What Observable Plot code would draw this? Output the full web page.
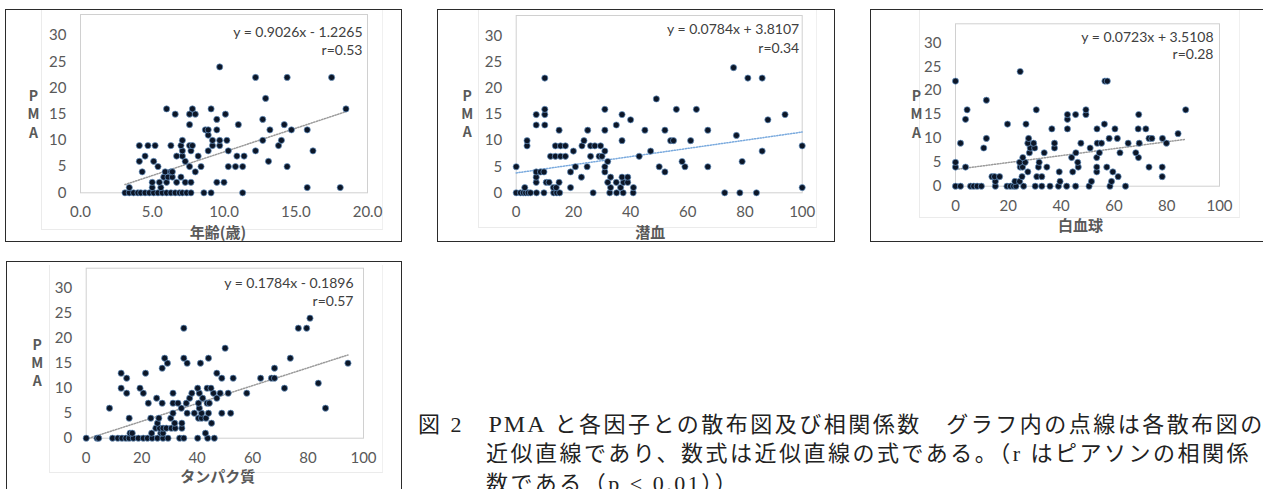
<!DOCTYPE html>
<html>
<head>
<meta charset="utf-8">
<script src="https://cdn.jsdelivr.net/npm/d3@7"></script>
<script src="https://cdn.jsdelivr.net/npm/@observablehq/plot@0.6"></script>
<style>
  html, body { margin: 0; padding: 0; background: #fff; }
  #root { position: relative; width: 1263px; height: 489px; overflow: hidden; background: #fff; }
  .box { position: absolute; border: 1.5px solid #2b2b2b; box-sizing: border-box; z-index: 3; pointer-events: none; }
  .area { position: absolute; border-left: 1px solid #ebebeb; border-bottom: 1px solid #ebebeb; border-right: 1px solid #f0f0f0; box-sizing: border-box; z-index: 0; }
  .panel { position: absolute; z-index: 1; }
  .panel svg { overflow: visible; }
  .cap { position: absolute; white-space: nowrap; font-family: "Liberation Serif", "Noto Sans CJK JP", serif; font-size: 22px; line-height: 30px; letter-spacing: 2.5px; color: #222; z-index: 2; }
  .cap .lat { letter-spacing: 2px; font-size: 24px; }
</style>
</head>
<body>
<div id="root"></div>
<script>
// ---------- data ----------
const yTicks = [0, 5, 10, 15, 20, 25, 30];
const ageTicks = [0, 5, 10, 15, 20];
const pctTicks = [0, 20, 40, 60, 80, 100];

// Panel 1: 年齢(歳) vs PMA
const ageX = [
  3.1,3.4,3.7,4.0,4.2,4.5,4.8,5.1,5.4,5.7,6.0,6.3,6.6,6.9,7.1,7.4,7.7,8.6,9.1,11.3,
  3.4,5.0,5.6,15.8,18.1,
  5.0,5.5,6.0,6.7,7.3,7.7,9.5,10.0,
  5.8,6.1,6.4,7.0,
  4.3,5.9,6.3,6.4,8.0,
  5.4,7.6,8.4,10.3,10.8,11.3,14.4,
  4.1,5.1,7.3,13.1,
  4.5,6.7,7.1,8.2,10.9,11.4,
  7.1,7.7,8.9,10.3,12.2,16.2,
  4.1,4.7,5.2,6.3,7.0,7.6,7.8,9.2,9.7,13.8,
  7.1,9.2,9.7,10.2,12.7,14.0,
  8.9,
  8.7,8.9,9.5,13.2,14.7,15.8,
  7.6,11.0,14.2,
  9.5,12.7,
  6.6,7.6,8.0,10.1,
  6.0,7.8,9.1,18.5,
  12.9,
  12.2,14.4,17.5,
  9.7
];
const agePMA = [
  0,0,0,0,0,0,0,0,0,0,0,0,0,0,0,0,0,0,0,0,
  1,1,1,1,1,
  2,2,2,2,2,2,2,2,
  3,3,3,3,
  4,4,4,4,4,
  5,5,5,5,5,5,5,
  6,6,6,6,
  7,7,7,7,7,7,
  8,8,8,8,8,8,
  9,9,9,9,9,9,9,9,9,9,
  10,10,10,10,10,10,
  11,
  12,12,12,12,12,12,
  13,13,13,
  14,14,
  15,15,15,15,
  16,16,16,16,
  18,
  22,22,22,
  24
];

// Panel 2: 潜血 vs PMA
const bloodX = [
  0,1.5,2.5,3.3,4.2,5.0,7.1,9.7,13.1,14.2,15.2,26.9,32.7,35.1,37.4,40.9,72.9,78.2,84.0,
  3,13,14,19,33,36.5,41,100,
  7,10.5,11.5,15,32,35,37.5,39,
  7,22.8,33,37,39,
  7,8.5,9.7,19,31,52,
  0,20.7,24.8,31,50,59,67,
  32,58,79,
  12,13.7,15.5,17.2,26,29,30,43,
  20,31,47,86,
  3.8,13.7,15.5,17.2,23,26,27.5,29.5,100,
  3.8,23.7,37,54,55,61,
  77,
  15,25,31,45,52,67,
  7,10,35,
  40,88,
  7,10,37,94,
  10,31,56,63,
  49,
  10,81,86,
  76
];
const bloodPMA = [
  0,0,0,0,0,0,0,0,0,0,0,0,0,0,0,0,0,0,0,
  1,1,1,1,1,1,1,1,
  2,2,2,2,2,2,2,2,
  3,3,3,3,3,
  4,4,4,4,4,4,
  5,5,5,5,5,5,5,
  6,6,6,
  7,7,7,7,7,7,7,7,
  8,8,8,8,
  9,9,9,9,9,9,9,9,9,
  10,10,10,10,10,10,
  11,
  12,12,12,12,12,12,
  13,13,13,
  14,14,
  15,15,15,15,
  16,16,16,16,
  18,
  22,22,22,
  24
];

// Panel 3: 白血球 vs PMA
const wbcX = [
  0,1.9,5.7,6.9,8.2,9.8,15.1,19.5,20.8,22,22.9,25.8,30.2,32.7,35.8,39,42.1,45.5,50.6,58.5,64.4,
  15.1,22.5,24.3,39.6,51.5,59.1,
  13.8,14.8,16.7,25.2,30.8,32.7,61.6,78.3,
  27.4,39.3,44.4,53.5,59.6,
  0,3.8,24.5,25.4,31.4,34.6,46.5,53.5,57.3,73.3,78.3,
  0,24.3,26.4,31.7,46.3,
  25.5,44,53.5,69.3,
  28,33.6,45.6,54.5,62.3,68.3,
  10.7,28.3,30,37.5,51,
  1.9,27.4,29.6,37.5,47.5,53.7,55.3,65.4,69.6,79.9,
  11.7,27.7,58.2,61.3,73.3,74.4,78.4,
  84.3,
  36.5,42.4,53.6,60.4,69.2,72.1,
  19.7,26.7,56.4,
  3.8,42.4,
  42.4,45.5,49.4,69.4,
  4.4,30.6,49.4,87.2,
  11.7,
  0,56.6,57.5,
  24.5
];
const wbcPMA = [
  0,0,0,0,0,0,0,0,0,0,0,0,0,0,0,0,0,0,0,0,0,
  1,1,1,1,1,1,
  2,2,2,2,2,2,2,2,
  3,3,3,3,3,
  4,4,4,4,4,4,4,4,4,4,4,
  5,5,5,5,5,
  6,6,6,6,
  7,7,7,7,7,7,
  8,8,8,8,8,
  9,9,9,9,9,9,9,9,9,9,
  10,10,10,10,10,10,10,
  11,
  12,12,12,12,12,12,
  13,13,13,
  14,14,
  15,15,15,15,
  16,16,16,16,
  18,
  22,22,22,
  24
];

// Panel 4: タンパク質 vs PMA
const protX = [
  0,3.9,4.5,9.5,11.4,12.9,14.3,15.5,17,18.8,20.6,22.1,23.8,25.7,27.7,29.5,33.7,35.2,40.2,43.8,46.2,
  15.8,16.6,23.6,26.9,27.7,43,
  25.1,26.5,27.7,28.9,30.7,32.1,34.5,
  25.7,31.9,34.5,45.2,
  15.5,23.3,26.2,30.5,40.5,41.6,43.2,
  31.3,36.4,39,41.6,44.1,48.9,52.1,
  8.4,34.3,40.8,86.3,
  22.4,27.4,31.3,33.1,36.1,40.5,43.6,44.4,
  25.4,37.3,42,47.1,
  14.6,20.6,31.3,38.1,40.8,45.9,48.3,51.2,57.9,
  12.6,19.4,40.2,43.6,45,71.5,
  83.7,
  14.6,48.9,53,62.9,66.8,67.9,
  12.6,21.4,47.1,
  27.4,67.9,
  29.3,36.4,41.2,94.4,
  28.3,35.2,44.1,73.6,
  50.1,
  35.2,76.5,79.5,
  80.7
];
const protPMA = [
  0,0,0,0,0,0,0,0,0,0,0,0,0,0,0,0,0,0,0,0,0,
  1,1,1,1,1,1,
  2,2,2,2,2,2,2,
  3,3,3,3,
  4,4,4,4,4,4,4,
  5,5,5,5,5,5,5,
  6,6,6,6,
  7,7,7,7,7,7,7,7,
  8,8,8,8,
  9,9,9,9,9,9,9,9,9,
  10,10,10,10,10,10,
  11,
  12,12,12,12,12,12,
  13,13,13,
  14,14,
  15,15,15,15,
  16,16,16,16,
  18,
  22,22,22,
  24
];

const slopes = [0.9026, 0.0784, 0.0723, 0.1784];
const intercepts = [-1.2265, 3.8107, 3.5108, -0.1896];
const eqLabels = ["y = 0.9026x - 1.2265", "y = 0.0784x + 3.8107", "y = 0.0723x + 3.5108", "y = 0.1784x - 0.1896"];
const rLabels = ["r=0.53", "r=0.34", "r=0.28", "r=0.57"];
const xLabels = ["年齢(歳)", "潜血", "白血球", "タンパク質"];
const yLabel = "P\nM\nA";
// caption lines: [text before Latin, Latin, text after]
const captionLines = [
  ["図 2　", "PMA", " と各因子との散布図及び相関係数　グラフ内の点線は各散布図の"],
  ["近似直線であり、数式は近似直線の式である。（r はピアソンの相関係", "", ""],
  ["数である（p < 0.01））", "", ""]
];

// ---------- layout ----------
const root = document.getElementById("root");
const panels = [
  {xs: ageX, ys: agePMA, ticks: ageTicks, dom: [0, 20], fmt: d => d.toFixed(1),
   box: [5, 9, 397, 233], area: [41, 10, 342, 220],
   svg: [6, 10, 394, 230], m: [4, 33, 47.7, 74],
   eq: {dx: -5, dy: 10, lh: 1.28}, yl: {dx: -47, dy: 10}, xl: {dx: -6, dy: 45},
   lineColor: "#9a9a9a"},
  {xs: bloodX, ys: bloodPMA, ticks: pctTicks, dom: [0, 100], fmt: d => d,
   box: [437, 9, 398, 233], area: [478, 10, 339, 218],
   svg: [438, 10, 395, 230], m: [5, 31.3, 47.7, 77.7],
   eq: {dx: -3, dy: 5, lh: 1.36}, yl: {dx: -49, dy: 9}, xl: {dx: -9, dy: 45},
   lineColor: "#7aaade"},
  {xs: wbcX, ys: wbcPMA, ticks: pctTicks, dom: [0, 100], fmt: d => d,
   box: [870, 9, 420, 233], area: [919, 10, 321, 208],
   svg: [871, 10, 392, 230], m: [13.3, 44, 54.3, 84],
   eq: {dx: -6, dy: 6, lh: 1.22}, yl: {dx: -39, dy: 8.5}, xl: {dx: -7, dy: 45},
   lineColor: "#9a9a9a"},
  {xs: protX, ys: protPMA, ticks: pctTicks, dom: [0, 100], fmt: d => d,
   box: [6, 261, 396, 260], area: [49, 265, 334, 208],
   svg: [7, 263, 393, 226], m: [4.7, 37, 51.3, 78.7],
   eq: {dx: -10, dy: 7, lh: 1.28}, yl: {dx: -49, dy: 9}, xl: {dx: -7, dy: 44},
   lineColor: "#9a9a9a"}
];

function place(el, [l, t, w, h]) {
  el.style.left = l + "px"; el.style.top = t + "px";
  el.style.width = w + "px"; el.style.height = h + "px";
}

panels.forEach((p, i) => {
  const area = document.createElement("div");
  area.className = "area"; place(area, p.area); root.appendChild(area);

  const pts = p.xs.map((x, k) => ({x, y: p.ys[k]}));
  const [xmin, xmax] = d3.extent(p.xs);
  const trend = [xmin, xmax].map(x => ({x, y: slopes[i] * x + intercepts[i]}));

  const chart = Plot.plot({
    width: p.svg[2], height: p.svg[3],
    marginTop: p.m[0], marginRight: p.m[1], marginBottom: p.m[2], marginLeft: p.m[3],
    x: {domain: p.dom, ticks: p.ticks},
    y: {domain: [0, 34], ticks: yTicks},
    style: {fontFamily: "Lato, 'Open Sans', sans-serif", fontSize: "15px", color: "#595959", background: "transparent"},
    marks: [
      Plot.frame({stroke: "#d0d0d0", strokeWidth: 1}),
      Plot.axisX({ticks: p.ticks, tickFormat: p.fmt, tickSize: 0, tickPadding: 14, label: null, fill: "#595959"}),
      Plot.axisY({ticks: yTicks, tickSize: 0, tickPadding: 14, label: null, fill: "#595959"}),
      Plot.line(trend, {x: "x", y: "y", stroke: p.lineColor, strokeWidth: 1.5, strokeDasharray: "1.2,1.6"}),
      Plot.dot(pts, {x: "x", y: "y", r: 3.1, fill: "#0c1627", stroke: "#6a98c8", strokeWidth: 0.7}),
      Plot.text([eqLabels[i] + "\n" + rLabels[i]], {frameAnchor: "top-right", textAnchor: "end", lineAnchor: "top",
        dx: p.eq.dx, dy: p.eq.dy, lineHeight: p.eq.lh, fontSize: 14, fill: "#404040"}),
      Plot.text([yLabel], {frameAnchor: "left", textAnchor: "middle", dx: p.yl.dx, dy: p.yl.dy, lineHeight: 1.3,
        fontSize: 14, fontWeight: "bold", fill: "#595959", fontFamily: "'Noto Sans CJK JP', sans-serif"}),
      Plot.text([xLabels[i]], {frameAnchor: "bottom", textAnchor: "middle", dx: p.xl.dx, dy: p.xl.dy,
        fontSize: 15, fontWeight: "bold", fill: "#595959", fontFamily: "'Noto Sans CJK JP', sans-serif"})
    ]
  });
  const wrap = document.createElement("div");
  wrap.className = "panel";
  place(wrap, p.svg);
  wrap.appendChild(chart);
  root.appendChild(wrap);

  const box = document.createElement("div");
  box.className = "box"; place(box, p.box); root.appendChild(box);
});

// caption
const capPos = [[418, 409], [486, 439], [486, 469]];
captionLines.forEach((parts, k) => {
  const d = document.createElement("div");
  d.className = "cap";
  d.style.left = capPos[k][0] + "px";
  d.style.top = capPos[k][1] + "px";
  d.appendChild(document.createTextNode(parts[0]));
  if (parts[1]) {
    const s = document.createElement("span");
    s.className = "lat"; s.textContent = parts[1];
    d.appendChild(s);
  }
  if (parts[2]) d.appendChild(document.createTextNode(parts[2]));
  root.appendChild(d);
});
</script>
</body>
</html>
